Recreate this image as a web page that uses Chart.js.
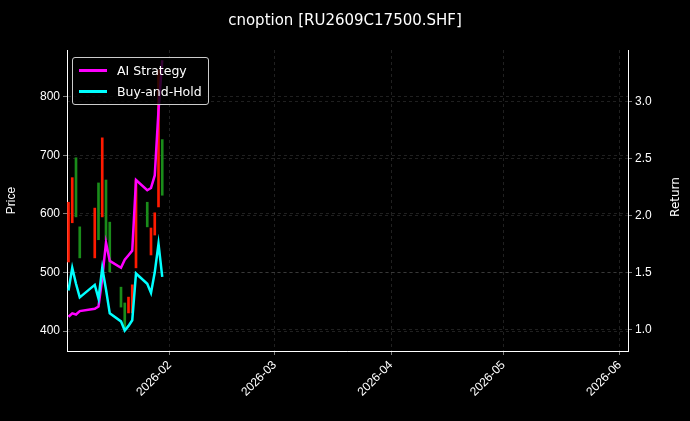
<!DOCTYPE html>
<html>
<head>
<meta charset="utf-8">
<script src="https://cdn.jsdelivr.net/npm/chart.js@4.4.1/dist/chart.umd.min.js"></script>
<style>
  body { margin: 0; background: #000; }
  #wrap { position: relative; width: 690px; height: 421px; background: #000; font-family: "DejaVu Sans", sans-serif; }
  #title { position: absolute; top: 11px; left: 0; width: 690px; text-align: center; color: #fff; font-size: 15px; }
  #legend { position: absolute; left: 72px; top: 57px; border: 1px solid #ccc; border-radius: 3px; padding: 2px 6px; color: #fff; font-size: 12.5px; background: rgba(0,0,0,0.8); }
  #legend div { display: flex; align-items: center; height: 21px; }
  #legend span.sw { display: inline-block; width: 28px; height: 2.5px; margin-right: 10px; }
  #rtitle { position: absolute; left: 655px; top: 190px; width: 40px; text-align: center; color: #fff; font-size: 12px; transform: rotate(-90deg); }
</style>
</head>
<body>
<div id="wrap">
  <canvas id="mychart" width="690" height="421"></canvas>
  <div id="title">cnoption [RU2609C17500.SHF]</div>
  <div id="legend">
    <div><span class="sw" style="background:#ff00ff"></span>AI Strategy</div>
    <div><span class="sw" style="background:#00ffff"></span>Buy-and-Hold</div>
  </div>
  <div id="rtitle">Return</div>
</div>
<script>
// days since 2026-01-01
const days = [4, 5, 6, 7, 11, 12, 13, 14, 15, 18, 19, 20, 21, 22, 25, 26, 27, 28, 29]
const opens  = [620, 662, 595, 525, 610, 556, 730, 556, 501, 441, 402, 458, 479, 658, 578, 576, 602, 846, 632]
const closes = [518, 585, 696, 578, 525, 653, 595, 658, 586, 475, 448, 431, 431, 508, 620, 530, 564, 612, 727]
const aiReturn  = [1.11, 1.14, 1.13, 1.16, 1.18, 1.20, 1.45, 1.76, 1.60, 1.54, 1.61, 1.65, 1.69, 2.31, 2.22, 2.24, 2.35, 2.92, 3.36]
const bhReturn  = [1.34, 1.54, 1.40, 1.28, 1.39, 1.27, 1.54, 1.35, 1.14, 1.07, 0.99, 1.03, 1.08, 1.49, 1.40, 1.32, 1.50, 1.75, 1.46]
const monthTicks = [31, 59, 90, 120, 151]
const monthLabels = ['2026-02', '2026-03', '2026-04', '2026-05', '2026-06']

const candles = days.map((d, i) => ({ x: d, y: [opens[i], closes[i]] }))
const candleColors = days.map((d, i) => closes[i] >= opens[i] ? '#1a8c1a' : '#ff1a00')

const gridStyle = { color: 'rgba(160,160,160,0.4)', lineWidth: 0.5, drawTicks: true, tickColor: '#fff', tickLength: 4 }
const borderStyle = { color: '#fff', width: 1, dash: [3, 3] }

new Chart(document.getElementById('mychart').getContext('2d'), {
  data: {
    datasets: [
      { type: 'line', label: 'AI Strategy', data: days.map((d, i) => ({ x: d, y: aiReturn[i] })), yAxisID: 'yr',
        borderColor: '#ff00ff', borderWidth: 2.5, pointRadius: 0, tension: 0, order: 1 },
      { type: 'line', label: 'Buy-and-Hold', data: days.map((d, i) => ({ x: d, y: bhReturn[i] })), yAxisID: 'yr',
        borderColor: '#00ffff', borderWidth: 2.5, pointRadius: 0, tension: 0, order: 0 },
      { type: 'bar', label: 'Price', data: candles, yAxisID: 'y', backgroundColor: candleColors,
        barThickness: 2, order: 2 }
    ]
  },
  options: {
    responsive: false,
    animation: { duration: 0 },
    layout: { padding: { top: 50, left: 0, right: 0, bottom: 0 } },
    plugins: { legend: { display: false }, tooltip: { enabled: false } },
    scales: {
      x: {
        type: 'linear', min: 3.6, max: 153.2, offset: false,
        afterBuildTicks: s => { s.ticks = monthTicks.map(v => ({ value: v })) },
        afterFit: s => { s.height = 70 },
        ticks: { color: '#fff', font: { size: 12 }, maxRotation: 45, minRotation: 45,
          callback: (v) => monthLabels[monthTicks.indexOf(v)] },
        grid: { ...gridStyle, offset: false },
        border: borderStyle
      },
      y: {
        position: 'left', min: 366, max: 880,
        afterBuildTicks: s => { s.ticks = [400, 500, 600, 700, 800].map(v => ({ value: v })) },
        afterFit: s => { s.width = 67 },
        ticks: { color: '#fff', font: { size: 12 } },
        title: { display: true, text: 'Price', color: '#fff', font: { size: 12 }, padding: { bottom: 6 } },
        grid: gridStyle,
        border: borderStyle
      },
      yr: {
        position: 'right', min: 0.81, max: 3.45,
        afterBuildTicks: s => { s.ticks = [1.0, 1.5, 2.0, 2.5, 3.0].map(v => ({ value: v })) },
        afterFit: s => { s.width = 62 },
        ticks: { color: '#fff', font: { size: 12 }, callback: v => v.toFixed(1) },
        grid: gridStyle,
        border: borderStyle
      }
    }
  }
})
</script>
</body>
</html>
